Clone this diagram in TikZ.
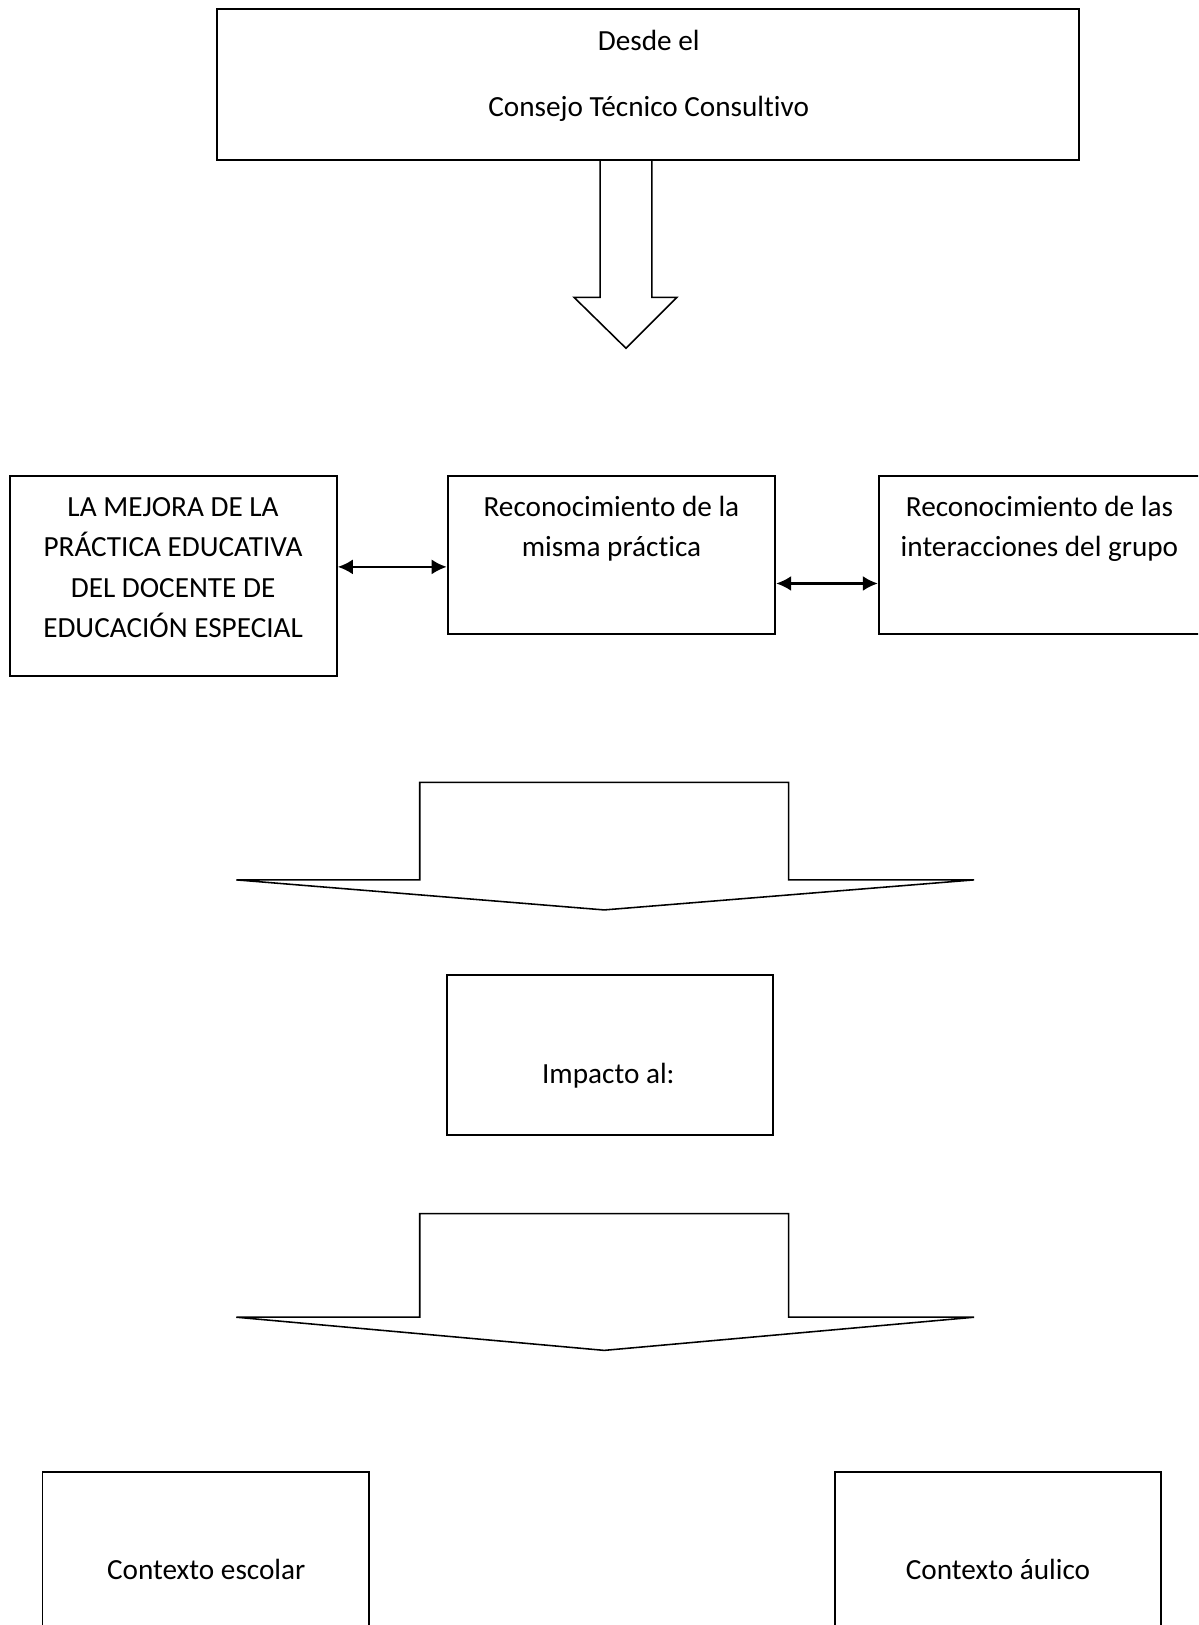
\documentclass[tikz,border=0pt]{standalone}
\usepackage{fontspec}
\setmainfont{Carlito}[Ligatures=NoCommon]
\usetikzlibrary{arrows.meta,fit}
\begin{document}
\begin{tikzpicture}[x=0.4pt,y=-0.4pt,
  boxst/.style={draw, line width=0.75pt, inner sep=0pt},
  txt/.style={align=center, inner sep=0pt, font=\fontsize{11.28pt}{15.6pt}\selectfont},
  dbl/.style={line width=0.9pt, {Latex[length=5.8pt,width=5.8pt]}-{Latex[length=5.8pt,width=5.8pt]}},
  blockarrow/.style={draw, line width=0.6pt, line join=miter}]
\useasboundingbox (0,0) rectangle (1156,1568);
\clip (0,0) rectangle (1156,1568);
\fill[white] (0,0) rectangle (1156,1568);
% boxes
\node[boxst, fit={(209,9)(1041,154)}] (top) {};
\node[boxst, fit={(10,459)(325,652)}] (left) {};
\node[boxst, fit={(432,459)(748,612)}] (mid) {};
\node[boxst, fit={(848,459)(1190,612)}] (right) {};
\node[boxst, fit={(431,941)(746,1095)}] (impacto) {};
\node[boxst, fit={(41,1420)(356,1600)}] (escolar) {};
\node[boxst, fit={(806,1420)(1120,1600)}] (aulico) {};
% texts
\node[txt] (ttop) at (626,73) {\strut Desde el\\[10pt]\strut Consejo Técnico Consultivo};
\node[txt] (tleft) at (167,549) {\strut LA MEJORA DE LA\\\strut PRÁCTICA EDUCATIVA\\\strut DEL DOCENTE DE\\\strut EDUCACIÓN ESPECIAL};
\node[txt] (tmid) at (590,510) {\strut Reconocimiento de la\\\strut misma práctica};
\node[txt] (tright) at (1003,510) {\strut Reconocimiento de las\\\strut interacciones del grupo};
\node[txt] (timp) at (587,1038) {\strut Impacto al:};
\node[txt] (tesc) at (199,1516) {\strut Contexto escolar};
\node[txt] (taul) at (963,1516) {\strut Contexto áulico};
% double arrows
\coordinate (ya) at (0,547);
\coordinate (yb) at (0,563);
\draw[dbl] (left.east |- ya) -- (mid.west |- ya);
\draw[dbl] (mid.east |- yb) -- (right.west |- yb);
% block arrows
\draw[blockarrow] (579,154) -- (579,287) -- (554,287) -- (604,336) -- (653,287) -- (629,287) -- (629,154);
\draw[blockarrow] (405,755) -- (761,755) -- (761,849) -- (940,849) -- (583,878) -- (228,849) -- (405,849) -- cycle;
\draw[blockarrow] (405,1171) -- (761,1171) -- (761,1271) -- (940,1271) -- (583,1303) -- (228,1271) -- (405,1271) -- cycle;
\end{tikzpicture}
\end{document}
